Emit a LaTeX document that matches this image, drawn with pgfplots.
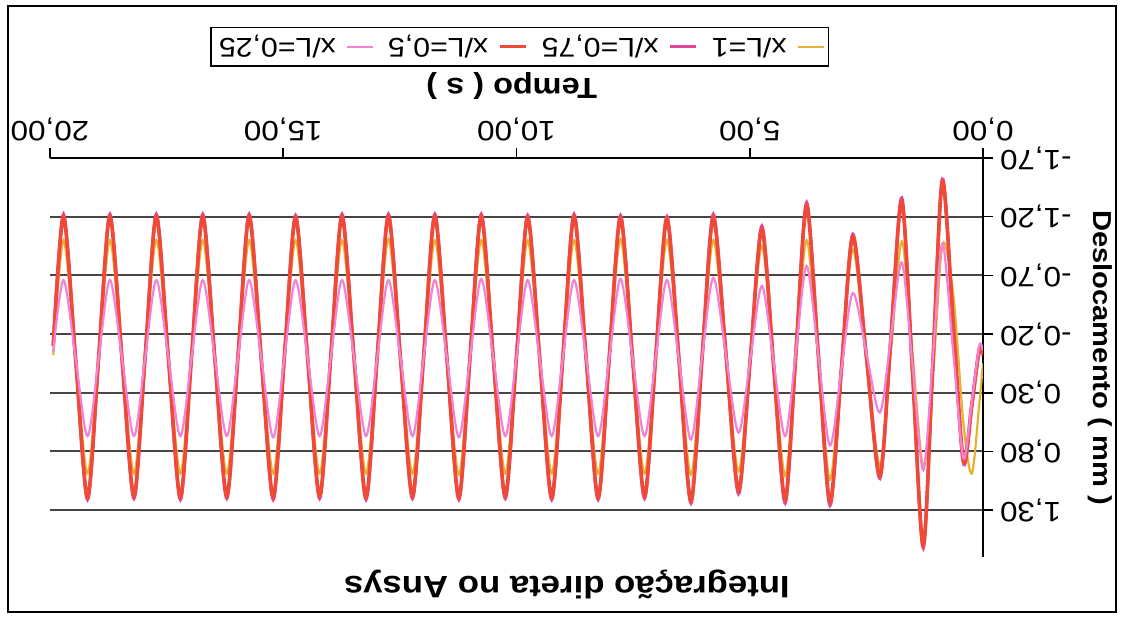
\documentclass[border=0pt]{standalone}
\usepackage{fontspec}
\setmainfont{Liberation Sans}[FakeStretch=1.12]
\usepackage{pgfplots}
\usepackage{pgfplotstable}
\pgfplotsset{compat=1.18}

\definecolor{cOrange}{HTML}{E6B033}
\definecolor{cMagenta}{HTML}{E0479A}
\definecolor{cRed}{HTML}{EF4A38}
\definecolor{cPink}{HTML}{F282D6}
\definecolor{gridgray}{HTML}{4A4545}

% t = tempo (s); o: x/L=1, m: x/L=0,75, r: x/L=0,5, p: x/L=0,25 (mm)
\pgfplotstableread{
t       o      m      r      p
0.00    0.05  -0.03  -0.02  -0.06
0.08    0.40  -0.08  -0.06  -0.10
0.24    0.99   0.42   0.40   0.38
0.42    0.56   0.90   0.88   0.86
0.64   -0.55  -0.30  -0.30  -0.05
0.87   -0.96  -1.52  -1.50  -0.97
1.075   0.18   0.05   0.05   0.00
1.28    0.93   1.62   1.60   0.96
1.51   -0.03   0.13   0.13   0.07
1.74   -0.99  -1.36  -1.33  -0.81
1.975  -0.04  -0.17  -0.16  -0.17
2.21    0.92   1.03   1.01   0.47
2.50    0.00  -0.01  -0.01  -0.04
2.79   -0.92  -1.05  -1.03  -0.55
3.035   0.06   0.10   0.10   0.10
3.28    1.04   1.26   1.23   0.75
3.53    0.02  -0.03  -0.03  -0.02
3.78   -1.00  -1.32  -1.29  -0.78
4.01    0.00  -0.04  -0.04  -0.05
4.24    1.01   1.24   1.21   0.67
4.49    0.03   0.06   0.06   0.03
4.74   -0.95  -1.12  -1.09  -0.61
4.99    0.01   0.02   0.02   0.02
5.24    0.97   1.16   1.13   0.64
5.51   -0.02  -0.03  -0.03  -0.02
5.78   -1.00  -1.22  -1.19  -0.68
6.02    0.00  -0.01  -0.01  -0.01
6.26    1.00   1.24   1.22   0.70
6.518   0.01   0.01   0.01   0.02
6.775  -1.00  -1.20  -1.18  -0.66
7.015   0.00  -0.01  -0.01   0.00
7.255   0.99   1.20   1.18   0.67
7.513   0.00   0.00   0.00   0.00
7.77   -1.01  -1.21  -1.19  -0.67
8.01    0.00  -0.01  -0.01   0.00
8.25    0.99   1.21   1.19   0.67
8.508   0.00   0.00   0.00   0.00
8.765  -1.00  -1.22  -1.20  -0.66
9.005   0.00  -0.01  -0.01   0.00
9.245   0.99   1.21   1.19   0.67
9.503   0.00   0.00   0.00   0.01
9.76   -1.00  -1.21  -1.19  -0.66
10.00   0.00  -0.01  -0.01   0.00
10.24   0.99   1.20   1.18   0.67
10.498  0.00   0.00   0.00   0.00
10.755 -1.00  -1.22  -1.20  -0.67
10.995  0.00  -0.01  -0.01   0.00
11.235  1.00   1.21   1.19   0.68
11.493  0.00   0.00   0.00   0.00
11.75  -1.00  -1.22  -1.20  -0.66
11.99   0.00  -0.01  -0.01   0.00
12.23   0.99   1.20   1.18   0.67
12.488  0.00   0.00   0.00   0.00
12.745 -1.01  -1.22  -1.20  -0.66
12.985  0.00  -0.01  -0.01   0.00
13.225  0.99   1.21   1.19   0.67
13.483  0.00   0.00   0.00   0.00
13.74  -1.00  -1.22  -1.20  -0.66
13.98   0.00  -0.01  -0.01   0.00
14.22   0.99   1.20   1.18   0.67
14.478  0.00   0.00   0.00   0.00
14.735 -1.00  -1.21  -1.19  -0.66
14.975  0.00  -0.01  -0.01   0.00
15.215  0.99   1.21   1.19   0.68
15.473  0.00   0.00   0.00   0.00
15.73  -1.00  -1.22  -1.20  -0.66
15.97   0.00  -0.01  -0.01   0.00
16.21   0.99   1.20   1.18   0.67
16.468  0.00   0.00   0.00   0.00
16.725 -1.00  -1.22  -1.20  -0.66
16.965  0.00  -0.01  -0.01   0.00
17.205  0.99   1.21   1.19   0.67
17.463  0.00   0.00   0.00   0.00
17.72  -1.00  -1.22  -1.20  -0.66
17.96   0.00  -0.01  -0.01   0.00
18.20   0.99   1.20   1.18   0.67
18.458  0.00   0.00   0.00   0.00
18.715 -1.00  -1.22  -1.20  -0.66
18.955  0.00  -0.01  -0.01   0.00
19.195  0.99   1.21   1.19   0.67
19.453  0.00   0.00   0.00   0.00
19.71  -1.00  -1.22  -1.20  -0.66
19.93  -0.02  -0.10  -0.10  -0.05
}\deslocamento

\begin{document}
\begin{tikzpicture}[x=0.5pt, y=0.5pt]
  % the whole chart is turned upside down: both axes run reversed
  % and every text is set at 180 degrees
  \begin{axis}[
    scale only axis, width=466.5pt, height=199.5pt,
    x dir=reverse, y dir=reverse,
    xmin=0, xmax=20, ymin=-1.7, ymax=1.7,
    xtick={0,5,10,15,20},
    ytick={-1.7,-1.2,-0.7,-0.2,0.3,0.8,1.3},
    axis x line=top, axis y line=right,
    axis line style={-, black, line width=0.8pt},
    tick align=outside, major tick length=5pt,
    tick style={black, line width=0.8pt},
    ymajorgrids, grid style={gridgray, line width=1pt},
    /pgf/number format/.cd, fixed, fixed zerofill, precision=2, use comma,
      assume math mode=true,
    /pgfplots/.cd,
    ticklabel style={font=\fontsize{14}{16}\selectfont},
    xticklabel style={rotate=180, anchor=north},
    yticklabel style={rotate=180, anchor=east},
    xlabel={Tempo ( s )},
    xlabel style={font=\bfseries\fontsize{14.5}{17}\selectfont,
      at={(axis description cs:0.495,1.18)}, anchor=center, rotate=180},
    ylabel={Deslocamento ( mm )},
    ylabel style={font=\bfseries\fontsize{13}{16}\selectfont,
      at={(axis description cs:1.1254,0.5)}, anchor=center, rotate=180},
    title={Integração direta no Ansys},
    title style={font=\bfseries\fontsize{15.5}{18}\selectfont,
      at={(axis description cs:0.554,-0.098)}, anchor=center, rotate=180},
    reverse legend, legend plot pos=right,
    legend style={at={(axis description cs:0.5037,1.279)}, anchor=center,
      legend columns=4, draw=black, line width=0.6pt,
      font=\fontsize{13.5}{16}\selectfont, inner sep=2pt,
      nodes={rotate=180, anchor=center},
      /tikz/every odd column/.append style={column sep=3pt},
      /tikz/every even column/.append style={column sep=5pt}},
    legend image code/.code={\draw[#1] (0pt,0pt) -- (13pt,0pt);},
  ]
    \addplot[cOrange, line width=1.1pt, smooth] table[x=t, y=o] {\deslocamento};
    \addlegendentry{x/L=1}
    \addplot[cMagenta, line width=1.6pt, smooth] table[x=t, y=m] {\deslocamento};
    \addlegendentry{x/L=0,75}
    \addplot[cRed, line width=1.8pt, smooth] table[x=t, y=r] {\deslocamento};
    \addlegendentry{x/L=0,5}
    \addplot[cPink, line width=1.1pt, smooth] table[x=t, y=p] {\deslocamento};
    \addlegendentry{x/L=0,25}
  \end{axis}
  % outer chart frame; the plot area's lower left corner is the origin
  \draw[black, line width=1pt] (-42,-55) rectangle (1066,551);
  \pgfresetboundingbox
  \path (-50,-60) rectangle (1071,557);
\end{tikzpicture}
\end{document}
